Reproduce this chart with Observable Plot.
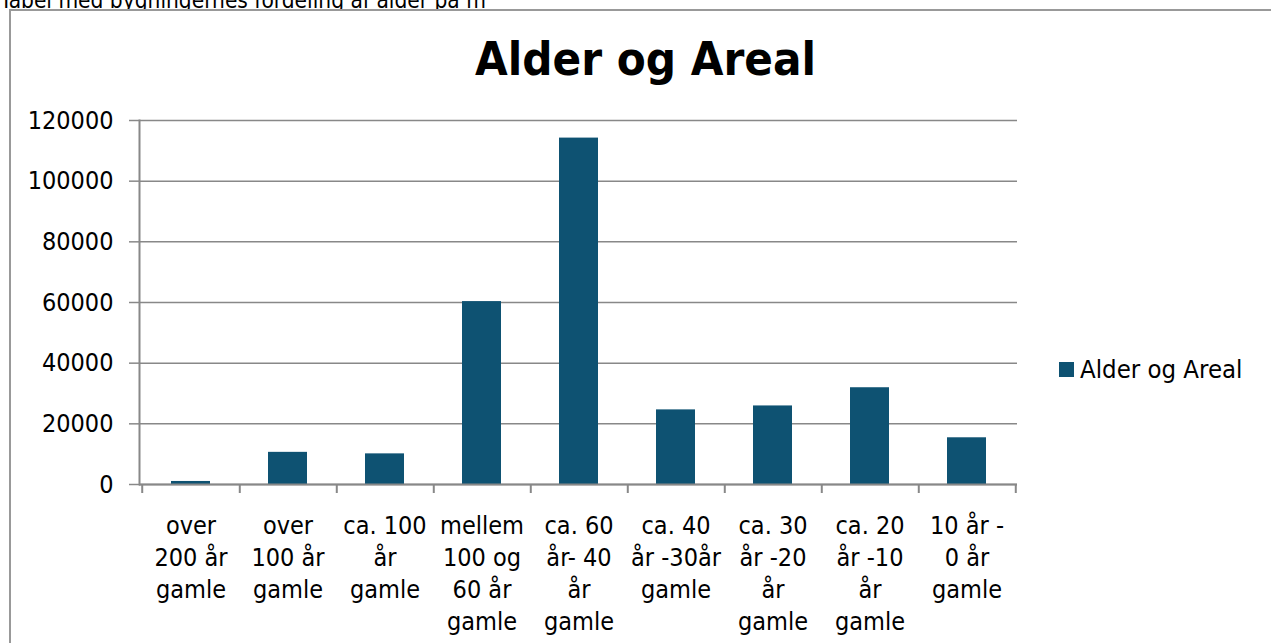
<!DOCTYPE html>
<html>
<head>
<meta charset="utf-8">
<script src="https://cdn.jsdelivr.net/npm/d3@7"></script>
<script src="https://cdn.jsdelivr.net/npm/@observablehq/plot@0.6"></script>
<style>
  html, body { margin: 0; padding: 0; background: #fff; }
  #wrap { position: relative; width: 1271px; height: 643px; overflow: hidden; font-family: "DejaVu Sans Condensed", "DejaVu Sans", sans-serif; }
  #caption { position: absolute; left: 0; top: -12px; font-size: 22.5px; line-height: 24px; color: #000; white-space: nowrap; }
  #frame { position: absolute; left: 9px; top: 9px; width: 1300px; height: 700px; border: 2px solid #999; box-sizing: border-box; background: #fff; }
  #title { position: absolute; left: 0; width: 1291px; top: 31px; text-align: center; font-size: 47px; font-weight: bold; line-height: 56px; color: #000; }
  #legend { position: absolute; left: 1059px; top: 355px; font-size: 25.5px; line-height: 28px; color: #000; white-space: nowrap; display: flex; align-items: center; }
  #legend .sw { width: 15px; height: 15px; background: #0E5272; margin-right: 6px; }
  #chart { position: absolute; left: 0; top: 0; }
</style>
</head>
<body>
<div id="wrap">
  <div id="caption">Tabel med bygningernes fordeling af alder på m²</div>
  <div id="frame"></div>
  <div id="chart"></div>
  <div id="title">Alder og Areal</div>
  <div id="legend"><span class="sw"></span><span>Alder og Areal</span></div>
</div>
<script>
const categories = [
  "over\n200 år\ngamle",
  "over\n100 år\ngamle",
  "ca. 100\når\ngamle",
  "mellem\n100 og\n60 år\ngamle",
  "ca. 60\når- 40\når\ngamle",
  "ca. 40\når -30år\ngamle",
  "ca. 30\når -20\når\ngamle",
  "ca. 20\når -10\når\ngamle",
  "10 år -\n0 år\ngamle"
];
const values = [1000, 10600, 10100, 60300, 114200, 24600, 25900, 31900, 15400];
const yTicks = [0, 20000, 40000, 60000, 80000, 100000, 120000];

const data = categories.map((c, i) => ({category: c, value: values[i]}));

const W = 1271, H = 643;
const mL = 139, mR = 254, mT = 120, mB = 159;
const step = (W - mL - mR) / categories.length;
const barColor = "#0E5272";
const gridColor = "#888888";
const fs = 25;

const chart = Plot.plot({
  width: W,
  height: H,
  marginLeft: mL,
  marginRight: mR,
  marginTop: mT,
  marginBottom: mB,
  style: {fontFamily: '"DejaVu Sans Condensed", "DejaVu Sans", sans-serif', fontSize: fs + "px", color: "#000", background: "transparent"},
  x: {domain: categories, paddingInner: 0.6, paddingOuter: 0.3},
  y: {domain: [0, 120000]},
  marks: [
    Plot.gridY(yTicks, {stroke: gridColor, strokeOpacity: 1, strokeWidth: 1.5}),
    Plot.barY(data, {x: "category", y: "value", fill: barColor}),
    Plot.ruleY([0], {stroke: gridColor, strokeWidth: 2}),
    Plot.frame({anchor: "left", stroke: gridColor, strokeWidth: 2}),
    Plot.axisY(yTicks, {tickSize: 10, tickPadding: 16, stroke: gridColor, strokeWidth: 1.5, tickFormat: d => String(d), fontSize: fs, fill: "#000", label: null}),
    Plot.axisX(categories, {tickSize: 0, tickPadding: 27, lineHeight: 1.28, fontSize: fs, fill: "#000", label: null, tickFormat: d => d}),
    Plot.axisX(categories, {tickSize: 9, dx: step / 2, stroke: gridColor, strokeWidth: 2, tickFormat: () => "", label: null}),
    Plot.axisX([categories[0]], {tickSize: 9, dx: -step / 2, stroke: gridColor, strokeWidth: 2, tickFormat: () => "", label: null})
  ]
});
document.getElementById("chart").appendChild(chart);
</script>
</body>
</html>
